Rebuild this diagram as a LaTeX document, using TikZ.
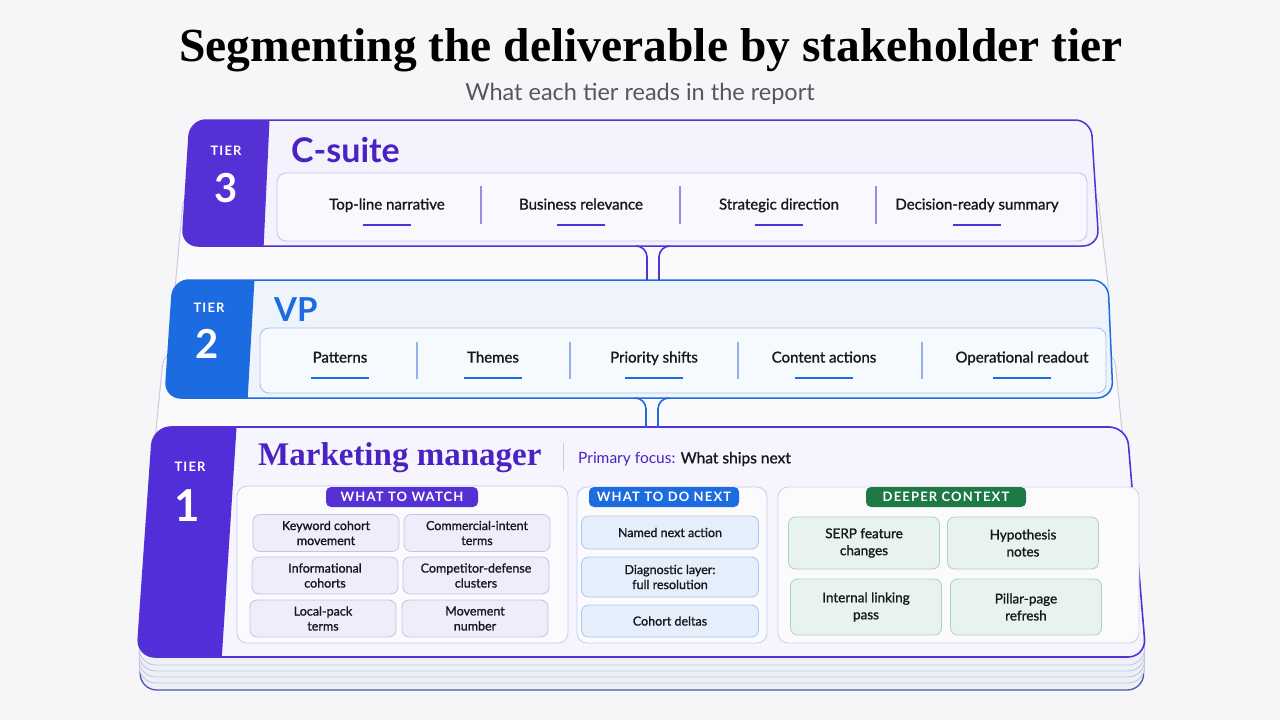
\documentclass[tikz,border=0pt]{standalone}
\usepackage{fontspec}
\setmainfont{Lato}
\newfontfamily\titlefont{Liberation Serif}
\newfontfamily\medfont[FakeBold=1.2]{Lato}
\newfontfamily\spacedfont[LetterSpace=9]{Lato}
\usetikzlibrary{calc}
\definecolor{pagebg}{HTML}{F6F6F9}
\definecolor{ink}{HTML}{17171E}
\definecolor{subgray}{HTML}{55565F}
\definecolor{purpleA}{HTML}{5530D5}
\definecolor{purpleT}{HTML}{4A22C4}
\definecolor{blueA}{HTML}{1D6BE0}
\definecolor{greenA}{HTML}{1E7A45}
\definecolor{bg3}{HTML}{F4F2FC}
\definecolor{bg2}{HTML}{EFF3FC}
\definecolor{bg1}{HTML}{F6F5FD}
\definecolor{sheetfill}{HTML}{FAFAFD}
\definecolor{sheetline}{HTML}{C9CBDD}
\definecolor{stackfill}{HTML}{EEF0F8}
\definecolor{stackline}{HTML}{C3C7DE}
\definecolor{stackdark}{HTML}{4E55AE}
\definecolor{in3fill}{HTML}{F9F8FE}
\definecolor{in3line}{HTML}{CBC2EF}
\definecolor{in2fill}{HTML}{F6F9FE}
\definecolor{in2line}{HTML}{A9C3EE}
\definecolor{div3}{HTML}{9A8BE0}
\definecolor{div2}{HTML}{93B2E8}
\definecolor{watchfill}{HTML}{EFEDFA}
\definecolor{watchline}{HTML}{C6BEEF}
\definecolor{dofill}{HTML}{E5EEFB}
\definecolor{doline}{HTML}{A8C6EF}
\definecolor{deepfill}{HTML}{E7F3EC}
\definecolor{deepline}{HTML}{A9D3BA}
\definecolor{panelfill}{HTML}{FBFBFE}
\definecolor{panelW}{HTML}{CCC7EE}
\definecolor{panelD}{HTML}{BDD0F0}
\definecolor{panelG}{HTML}{C9D5E2}
\tikzset{
  tierlbl/.style={text=white, font=\spacedfont\bfseries\fontsize{13}{14}\selectfont, inner sep=0pt},
  tiernum/.style={text=white, font=\bfseries\fontsize{40}{42}\selectfont, inner sep=0pt},
  itemtxt/.style={text=ink, font=\medfont\fontsize{15}{17}\selectfont, inner sep=0pt, anchor=base},
  uline/.style={line width=2pt},
  divline/.style={line width=1.2pt},
  cell/.style={draw, rounded corners=7, line width=0.8pt, align=center, text=ink,
    font=\medfont\fontsize{12.5}{15}\selectfont, inner sep=0pt},
  pill/.style={rounded corners=5, text=white, inner sep=0pt,
    font=\spacedfont\bfseries\fontsize{13}{14}\selectfont, minimum height=20pt},
  panel/.style={fill=panelfill, rounded corners=10, line width=0.8pt},
  stemline/.style={line width=1.6pt},
}
\begin{document}
\begin{tikzpicture}[x=1pt,y=-1pt]
\fill[pagebg] (0,0) rectangle (1280,720);
\useasboundingbox (0,0) rectangle (1280,720);

% title
\node[font=\titlefont\bfseries\fontsize{47.5}{50}\selectfont, text=black, inner sep=0pt] (title) at (651,50) {Segmenting the deliverable by stakeholder tier};
\node[font=\fontsize{23.5}{26}\selectfont, text=subgray, inner sep=0pt] (subtitle) at (640,94) {What each tier reads in the report};

% backing sheets
\draw[fill=sheetfill, draw=sheetline, line width=1pt, rounded corners=16]
  (640,190) -- (1097,190) -- (1110,300) -- (174,300) -- (184,190) -- cycle;
\draw[fill=sheetfill, draw=sheetline, line width=1pt, rounded corners=16]
  (640,350) -- (1114,350) -- (1124,450) -- (154,450) -- (164,350) -- cycle;

% stack under tier 1
\draw[fill=stackfill, draw=stackdark, line width=1.3pt, rounded corners=18]
  (640,460) -- (1127,460) -- (1145,690) -- (139,690) -- (153,460) -- cycle;
\foreach \d in {26,20,14,8}{
  \draw[fill=stackfill, draw=stackline, line width=0.9pt, rounded corners=18]
    (640,{427+\d}) -- (1127,{427+\d}) -- (1146,{657+\d}) -- (138,{657+\d}) -- (153,{427+\d}) -- cycle;
}

% ---------- Tier 1 card ----------
\fill[bg1, rounded corners=18]
  (640,427) -- (1127,427) -- (1146,657) -- (137,657) -- (153,427) -- cycle;
\begin{scope}
  \clip[rounded corners=18] (640,427) -- (1127,427) -- (1146,657) -- (137,657) -- (153,427) -- cycle;
  \fill[purpleA!95!blue] (100,420) -- (237,420) -- (221,670) -- (100,670) -- cycle;
\end{scope}
\draw[purpleA, line width=1.6pt, rounded corners=18]
  (640,427) -- (1127,427) -- (1146,657) -- (137,657) -- (153,427) -- cycle;
\node[tierlbl] (t1tier) at (190,467) {TIER};
\node[tiernum, font=\bfseries\fontsize{44}{46}\selectfont] (t1num) at (187,506) {1};
\node[anchor=west, inner sep=0pt, text=purpleT, font=\titlefont\bfseries\fontsize{33}{36}\selectfont] (t1head) at (258,458) {Marketing manager};
\draw[sheetline, line width=1pt] (563,443) -- (563,471);
\node[anchor=west, inner sep=0pt, font=\fontsize{15.5}{18}\selectfont] (t1focus) at (578,459) {\textcolor{purpleT}{Primary focus:} \textcolor{ink}{\medfont What ships next}};

% panels
\draw[panel, draw=panelW] (237,486) rectangle (568,643);
\draw[panel, draw=panelD] (577,487) rectangle (767,643);
\draw[panel, draw=panelG] (778,487) rectangle (1139,643);
\node[pill, fill=purpleA, minimum width=152pt] (pw) at (402,497) {WHAT TO WATCH};
\node[pill, fill=blueA, minimum width=150pt] (pd) at (664,497) {WHAT TO DO NEXT};
\node[pill, fill=greenA, minimum width=160pt] (pg) at (946,497) {DEEPER CONTEXT};

\tikzset{wcell/.style={cell, fill=watchfill, draw=watchline, minimum width=146pt, minimum height=37pt}}
\node[wcell] (w1) at (326,533) {Keyword cohort\\movement};
\node[wcell] (w2) at (477,533) {Commercial-intent\\terms};
\node[wcell] (w3) at (325,575.5) {Informational\\cohorts};
\node[wcell] (w4) at (476,575.5) {Competitor-defense\\clusters};
\node[wcell] (w5) at (323,618.5) {Local-pack\\terms};
\node[wcell] (w6) at (475,618.5) {Movement\\number};

\tikzset{dcell/.style={cell, fill=dofill, draw=doline, minimum width=177pt}}
\node[dcell, minimum height=33pt] (d1) at (670,532.5) {Named next action};
\node[dcell, minimum height=40pt] (d2) at (670,577) {Diagnostic layer:\\full resolution};
\node[dcell, minimum height=32pt] (d3) at (670,621) {Cohort deltas};

\tikzset{gcell/.style={cell, fill=deepfill, draw=deepline, minimum width=151pt, font=\medfont\fontsize{13.5}{17}\selectfont}}
\node[gcell, minimum height=52pt] (g1) at (864,543) {SERP feature\\changes};
\node[gcell, minimum height=52pt] (g2) at (1023,543) {Hypothesis\\notes};
\node[gcell, minimum height=56pt] (g3) at (866,607) {Internal linking\\pass};
\node[gcell, minimum height=56pt] (g4) at (1026,607) {Pillar-page\\refresh};

% ---------- Tier 2 card ----------
\fill[bg2, rounded corners=16]
  (640,280) -- (1108,280) -- (1113,398) -- (165,398) -- (173,280) -- cycle;
\begin{scope}
  \clip[rounded corners=16] (640,280) -- (1108,280) -- (1113,398) -- (165,398) -- (173,280) -- cycle;
  \fill[blueA] (120,270) -- (255,270) -- (247,410) -- (120,410) -- cycle;
\end{scope}
\draw[blueA, line width=1.5pt, rounded corners=16]
  (640,280) -- (1108,280) -- (1113,398) -- (165,398) -- (173,280) -- cycle;
\node[tierlbl] (t2tier) at (209,308) {TIER};
\node[tiernum] (t2num) at (207,344) {2};
\node[anchor=west, inner sep=0pt, text=blueA, font=\bfseries\fontsize{33}{35}\selectfont] (t2head) at (274,310) {VP};
\draw[fill=in2fill, draw=in2line, line width=0.9pt, rounded corners=9] (260,328) rectangle (1106,393);
\foreach \x/\t/\n in {340/Patterns/a, 493/Themes/b, 654/Priority shifts/c, 824/Content actions/d, 1022/Operational readout/e}{
  \node[itemtxt] (t2\n) at (\x,362.5) {\t};
  \draw[blueA, uline] ({\x-29},378) -- ({\x+29},378);
}
\foreach \x in {417,570,738,922}{
  \draw[div2, divline] (\x,342) -- (\x,379);
}

% ---------- Tier 3 card ----------
\fill[bg3, rounded corners=16]
  (640,120) -- (1091,120) -- (1099,246) -- (182,246) -- (190,120) -- cycle;
\begin{scope}
  \clip[rounded corners=16] (640,120) -- (1091,120) -- (1099,246) -- (182,246) -- (190,120) -- cycle;
  \fill[purpleA] (140,110) -- (270,110) -- (263,260) -- (140,260) -- cycle;
\end{scope}
\draw[purpleA, line width=1.5pt, rounded corners=16]
  (640,120) -- (1091,120) -- (1099,246) -- (182,246) -- (190,120) -- cycle;
\node[tierlbl] (t3tier) at (226,151) {TIER};
\node[tiernum] (t3num) at (226,188) {3};
\node[anchor=west, inner sep=0pt, text=purpleT, font=\bfseries\fontsize{34}{36}\selectfont] (t3head) at (291,150) {C-suite};
\draw[fill=in3fill, draw=in3line, line width=0.9pt, rounded corners=9] (277,173) rectangle (1087,241);
\foreach \x/\t/\n in {387/Top-line narrative/a, 581/Business relevance/b, 779/Strategic direction/c, 977/Decision-ready summary/d}{
  \node[itemtxt] (t3\n) at (\x,209.5) {\t};
  \draw[purpleA, uline] ({\x-24},225) -- ({\x+24},225);
}
\foreach \x in {481,680,876}{
  \draw[div3, divline] (\x,186) -- (\x,224);
}

% ---------- stems ----------
\coordinate (t3bot) at (653,246);
\coordinate (t2top) at (653,280);
\coordinate (t2bot) at (652,398);
\coordinate (t1top) at (652,427);
\draw[purpleA, stemline] ($(t3bot)+(-17,0)$) to[out=0,in=90] ($(t3bot)+(-6,11)$) -- ($(t2top)+(-6,0)$);
\draw[purpleA, stemline] ($(t3bot)+(17,0)$) to[out=180,in=90] ($(t3bot)+(6,11)$) -- ($(t2top)+(6,0)$);
\draw[blueA, stemline] ($(t2bot)+(-17,0)$) to[out=0,in=90] ($(t2bot)+(-6,11)$) -- ($(t1top)+(-6,0)$);
\draw[blueA, stemline] ($(t2bot)+(17,0)$) to[out=180,in=90] ($(t2bot)+(6,11)$) -- ($(t1top)+(6,0)$);
\end{tikzpicture}
\end{document}
